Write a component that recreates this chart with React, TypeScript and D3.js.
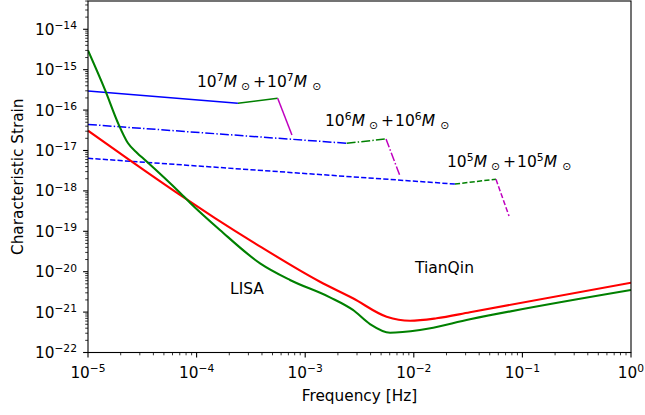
import React from "react";
import * as d3 from "d3";

// ---- data ----
const redFreq = [1e-5, 2.33e-5, 7.03e-5, 1.476e-4, 3.45e-4, 1.368e-3, 2.75e-3, 5.62e-3, 9.23e-3, 1.62e-2, 3.29e-2, 1];
const redStrain = [3.09e-17, 6.17e-18, 7.93e-19, 2.13e-19, 5.05e-20, 5.65e-21, 2.2e-21, 7.69e-22, 6.12e-22, 7.03e-22, 9.89e-22, 5.35e-21];

const greenFreq = [1e-5, 1.435e-5, 1.888e-5, 2.33e-5, 2.85e-5, 3.35e-5, 7.03e-5, 8.69e-5, 1.64e-4, 3.84e-4, 7.24e-4, 1.69e-3, 2.75e-3, 3.95e-3, 6.04e-3, 1.14e-2, 3.29e-2, 1];
const greenStrain = [2.99e-15, 3.15e-16, 4.8e-17, 1.53e-17, 8.6e-18, 5.82e-18, 9.02e-19, 5.11e-19, 1.08e-19, 1.61e-20, 6.24e-21, 2.32e-21, 1.13e-21, 5.07e-22, 3.09e-22, 3.61e-22, 6.64e-22, 3.52e-21];

// sources: [inspiral start, inspiral end / merger start, merger end / ringdown start, ringdown end]
const srcNames = ["1e7", "1e6", "1e5"];
const srcExp = ["7", "6", "5"];
const srcFreq = [
  [1e-5, 2.40e-4, 5.58e-4, 7.55e-4],
  [1e-5, 2.41e-3, 5.55e-3, 7.46e-3],
  [1e-5, 2.39e-2, 5.71e-2, 7.53e-2],
];
const srcStrain = [
  [2.97e-16, 1.47e-16, 1.96e-16, 2.42e-17],
  [4.41e-17, 1.51e-17, 1.93e-17, 2.34e-18],
  [6.41e-18, 1.48e-18, 1.94e-18, 2.39e-19],
];
const srcLabelPos = [
  [197, 87],
  [325, 126],
  [447, 167],
];

const xDomain = [1e-5, 1];
const yDomain = [1e-22, Math.pow(10, -13.3)];
const xMajor = [-5, -4, -3, -2, -1, 0];
const yMajor = [-22, -21, -20, -19, -18, -17, -16, -15, -14];

const FONT = "DejaVu Sans, sans-serif";

function Sup({ base, exp, x, y, anchor, fs }: any) {
  return (
    <text x={x} y={y} fontSize={fs} fontFamily={FONT} textAnchor={anchor} fill="#000">
      {base}
      <tspan fontSize={fs * 0.7} dy={-fs * 0.36}>{exp}</tspan>
    </text>
  );
}

function MassLabel({ x, y, e }: any) {
  const fs = 15.5;
  const up = fs * 0.36;
  const dn = fs * 0.2;
  return (
    <text x={x} y={y} fontSize={fs} fontFamily={FONT} fill="#000">
      10
      <tspan fontSize={fs * 0.7} dy={-up}>{e}</tspan>
      <tspan fontStyle="italic" dy={up}>M</tspan>
      <tspan fontSize={fs * 0.7} dy={dn} dx={4}>⊙</tspan>
      <tspan dy={-dn} dx={3}>+</tspan>
      <tspan dx={1}>10</tspan>
      <tspan fontSize={fs * 0.7} dy={-up}>{e}</tspan>
      <tspan fontStyle="italic" dy={up}>M</tspan>
      <tspan fontSize={fs * 0.7} dy={dn} dx={5}>⊙</tspan>
    </text>
  );
}

export default function App() {
  const L = 88, R = 631, T = 1, B = 352.5;
  const x = d3.scaleLog().domain(xDomain).range([L, R]);
  const y = d3.scaleLog().domain(yDomain).range([B, T]);

  const line = d3
    .line<[number, number]>()
    .x((d) => x(d[0]))
    .y((d) => y(d[1]))
    .curve(d3.curveMonotoneX);
  const straight = d3
    .line<[number, number]>()
    .x((d) => x(d[0]))
    .y((d) => y(d[1]));

  const redPts = redFreq.map((f, i) => [f, redStrain[i]] as [number, number]);
  const greenPts = greenFreq.map((f, i) => [f, greenStrain[i]] as [number, number]);

  const xTicks = x.ticks();
  const yTicks = y.ticks();
  const isMajor = (v: number) => Math.abs(Math.log10(v) - Math.round(Math.log10(v))) < 1e-6;

  const dashes = [null, "8.9 2.2 1.4 2.2", "5.2 2.2"];
  const segColors = ["#0000ff", "#008000", "#bf00bf"];

  return (
    <svg width={645} height={415} style={{ position: "fixed", left: 0, top: 0, background: "#fff" }}>
      <defs>
        <clipPath id="plot">
          <rect x={L} y={T} width={R - L} height={B - T} />
        </clipPath>
      </defs>
      <rect x={0} y={0} width={645} height={415} fill="#fff" />
      <g clipPath="url(#plot)">
        {srcFreq.map((fs, si) =>
          [0, 1, 2].map((k) => (
            <path
              key={srcNames[si] + k}
              d={straight([
                [fs[k], srcStrain[si][k]],
                [fs[k + 1], srcStrain[si][k + 1]],
              ]) || ""}
              fill="none"
              stroke={segColors[k]}
              strokeWidth={1.5}
              strokeDasharray={dashes[si] || undefined}
            />
          ))
        )}
        <path d={line(redPts) || ""} fill="none" stroke="#ff0000" strokeWidth={2.1} />
        <path d={line(greenPts) || ""} fill="none" stroke="#008000" strokeWidth={2.1} />
      </g>
      {/* frame */}
      <rect x={L} y={T} width={R - L} height={B - T} fill="none" stroke="#000" strokeWidth={1.1} />
      {/* x ticks */}
      {xTicks.map((t, i) => (
        <line key={"xt" + i} x1={x(t)} x2={x(t)} y1={B} y2={B + (isMajor(t) ? 4.9 : 2.8)} stroke="#000" strokeWidth={isMajor(t) ? 1.1 : 0.8} />
      ))}
      {yTicks.map((t, i) => (
        <line key={"yt" + i} x1={L} x2={L - (isMajor(t) ? 4.9 : 2.8)} y1={y(t)} y2={y(t)} stroke="#000" strokeWidth={isMajor(t) ? 1.1 : 0.8} />
      ))}
      {xMajor.map((e) => (
        <Sup key={"xl" + e} base="10" exp={e < 0 ? "\u2212" + -e : String(e)} x={x(Math.pow(10, e))} y={378} anchor="middle" fs={15.3} />
      ))}
      {yMajor.map((e) => (
        <Sup key={"yl" + e} base="10" exp={"\u2212" + -e} x={77} y={y(Math.pow(10, e)) + 5.5} anchor="end" fs={15.3} />
      ))}
      <text x={(L + R) / 2} y={401} fontSize={15.3} fontFamily={FONT} textAnchor="middle">Frequency [Hz]</text>
      <text transform={`translate(22.5,${(T + B) / 2}) rotate(-90)`} fontSize={15.3} fontFamily={FONT} textAnchor="middle">Characteristic Strain</text>
      <text x={230} y={294} fontSize={15.5} fontFamily={FONT}>LISA</text>
      <text x={415} y={273} fontSize={15.5} fontFamily={FONT}>TianQin</text>
      {srcLabelPos.map((p, i) => (
        <MassLabel key={"ml" + i} x={p[0]} y={p[1]} e={srcExp[i]} />
      ))}
    </svg>
  );
}
